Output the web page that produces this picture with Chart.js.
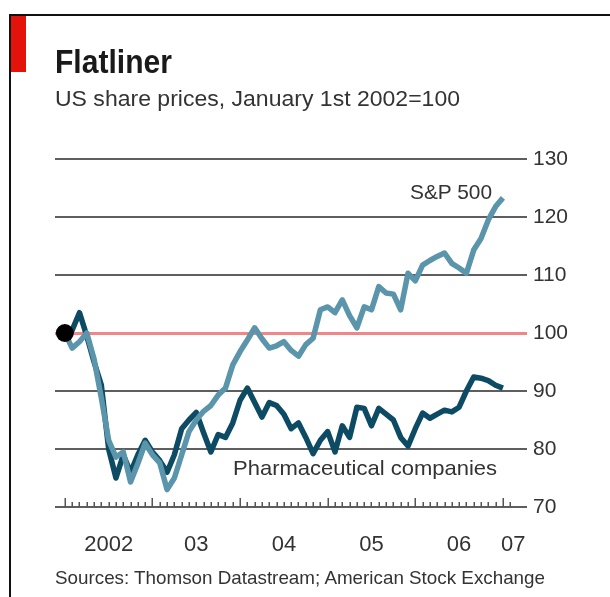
<!DOCTYPE html>
<html>
<head>
<meta charset="utf-8">
<script src="https://cdn.jsdelivr.net/npm/chart.js@4.4.1/dist/chart.umd.min.js"></script>
<style>
html,body{margin:0;padding:0;background:#fff;}
#wrap{position:relative;width:610px;height:597px;overflow:hidden;background:#fff;}
#c{position:absolute;left:0;top:0;}
.frame{position:absolute;left:9px;top:14px;width:620px;height:600px;border-top:2px solid #111;border-left:2px solid #111;}
.red{position:absolute;left:11px;top:16px;width:15px;height:56px;background:#e3120b;}
.t{position:absolute;white-space:nowrap;transform-origin:0 0;font-family:"Liberation Sans",Arial,sans-serif;color:#333;line-height:1;}
</style>
</head>
<body>
<div id="wrap">
  <canvas id="c" width="610" height="597"></canvas>
  <div class="frame"></div>
  <div class="red"></div>
  <div class="t" data-w="117" style="left:55px;top:45px;font-size:33px;font-weight:bold;color:#1a1a1a;font-family:'Liberation Sans Narrow','Liberation Sans',Arial,sans-serif;">Flatliner</div>
  <div class="t" data-w="405" style="left:55px;top:88px;font-size:22px;">US share prices, January 1st 2002=100</div>
  <div class="t" data-w="82" style="left:410px;top:181px;font-size:21px;">S&amp;P 500</div>
  <div class="t" data-w="264" style="left:233px;top:457px;font-size:21px;">Pharmaceutical companies</div>
  <div class="t" data-w="490" style="left:55px;top:568px;font-size:19px;">Sources: Thomson Datastream; American Stock Exchange</div>
</div>
<script>
// Month-end observations, Jan 1st 2002 (index 0) to Jan 2007 (index 60)
const monthIndex = Array.from({length: 61}, (_, i) => i);
const sp500 = [100, 97.4, 98.5, 100, 95.5, 88.8, 81.5, 78.6, 79.5, 74.3,
  77.5, 81, 79, 77.6, 73, 75, 79, 83, 85, 86.5,
  87.5, 89.3, 90.5, 94.5, 96.8, 98.8, 100.9, 99, 97.4, 97.8,
  98.5, 97, 96, 98, 99.1, 104, 104.5, 103.5, 105.7, 103,
  100.9, 104.5, 104, 108, 106.9, 106.7, 104, 110.3, 109, 111.7,
  112.5, 113.2, 113.8, 112, 111.2, 110.3, 114.3, 116.3, 119.5, 121.8,
  123.3];
const pharma = [100, 100.5, 103.5, 99.5, 95, 91, 80, 75, 79, 76,
  79, 81.5, 79.5, 78, 76, 79, 83.5, 85, 86.3, 82.8,
  79.5, 82.5, 82, 84.5, 88.4, 90.5, 88, 85.5, 88, 87.5,
  86, 83.5, 84.5, 82, 79.2, 81.5, 83, 79.5, 84, 82,
  87.2, 87, 84, 87, 86, 85, 82, 80.5, 83.5, 86.2,
  85.3, 86, 86.7, 86.4, 87.2, 90, 92.4, 92.2, 91.8, 91,
  90.5];
const baseValue = 100;
const yearLabels = ["2002", "03", "04", "05", "06", "07"];
const yearLabelMonths = [6, 18, 30, 42, 54, 61.4];
const yTicks = [70, 80, 90, 100, 110, 120, 130];

const axisTicks = {
  id: 'axisTicks',
  beforeDatasetsDraw(chart) {
    const {ctx, scales: {x, y}} = chart;
    const y0 = y.getPixelForValue(70);
    ctx.save();
    ctx.strokeStyle = '#555';
    ctx.lineWidth = 1.5;
    for (let m = 0; m <= 61; m++) {
      const px = Math.round(x.getPixelForValue(m)) + 0.25;
      const len = (m % 12 === 0) ? 9 : 5;
      ctx.beginPath();
      ctx.moveTo(px, y0);
      ctx.lineTo(px, y0 - len);
      ctx.stroke();
    }
    ctx.restore();
  }
};

new Chart(document.getElementById('c'), {
  type: 'line',
  data: {
    datasets: [
      {
        label: 'start',
        data: [{x: 0, y: baseValue}],
        showLine: false,
        pointRadius: 9,
        pointBackgroundColor: '#000',
        pointBorderWidth: 0
      },
      {
        label: 'S&P 500',
        data: monthIndex.map((m, i) => ({x: m, y: sp500[i]})),
        borderColor: '#5a95ab',
        borderWidth: 5.5,
        pointRadius: 0,
        tension: 0,
        borderJoinStyle: 'round'
      },
      {
        label: 'Pharmaceutical companies',
        data: monthIndex.map((m, i) => ({x: m, y: pharma[i]})),
        borderColor: '#0c4b63',
        borderWidth: 5.5,
        pointRadius: 0,
        tension: 0,
        borderJoinStyle: 'round'
      }
    ]
  },
  options: {
    responsive: false,
    animation: false,
    devicePixelRatio: 1,
    layout: {padding: {left: 55, top: 159, right: 0, bottom: 0}},
    plugins: {legend: {display: false}, tooltip: {enabled: false}},
    scales: {
      x: {
        type: 'linear',
        min: -1.35,
        max: 63.3,
        grid: {display: false},
        border: {display: false},
        afterBuildTicks: s => { s.ticks = yearLabelMonths.map(v => ({value: v})); },
        afterFit: s => { s.height = 90; },
        ticks: {
          autoSkip: false,
          maxRotation: 0,
          padding: 17,
          color: '#333',
          font: {family: 'Liberation Sans', size: 22},
          callback: (v, i) => yearLabels[i]
        }
      },
      y: {
        position: 'right',
        min: 70,
        max: 130,
        afterBuildTicks: s => { s.ticks = yTicks.map(v => ({value: v})); },
        afterFit: s => { s.width = 83; },
        grid: {
          color: c => (c.tick && c.tick.value === 100) ? '#f28585' : '#5e5e5e',
          lineWidth: c => (c.tick && c.tick.value === 100) ? 3 : 2,
          drawTicks: false
        },
        border: {display: false},
        ticks: {
          padding: 6,
          color: '#333',
          font: {family: 'Liberation Sans', size: 21}
        }
      }
    }
  },
  plugins: [axisTicks]
});

document.querySelectorAll('[data-w]').forEach(el => {
  const w = el.getBoundingClientRect().width;
  const target = +el.dataset.w;
  if (w > 0) el.style.transform = 'scaleX(' + (target / w) + ')';
});
</script>
</body>
</html>
